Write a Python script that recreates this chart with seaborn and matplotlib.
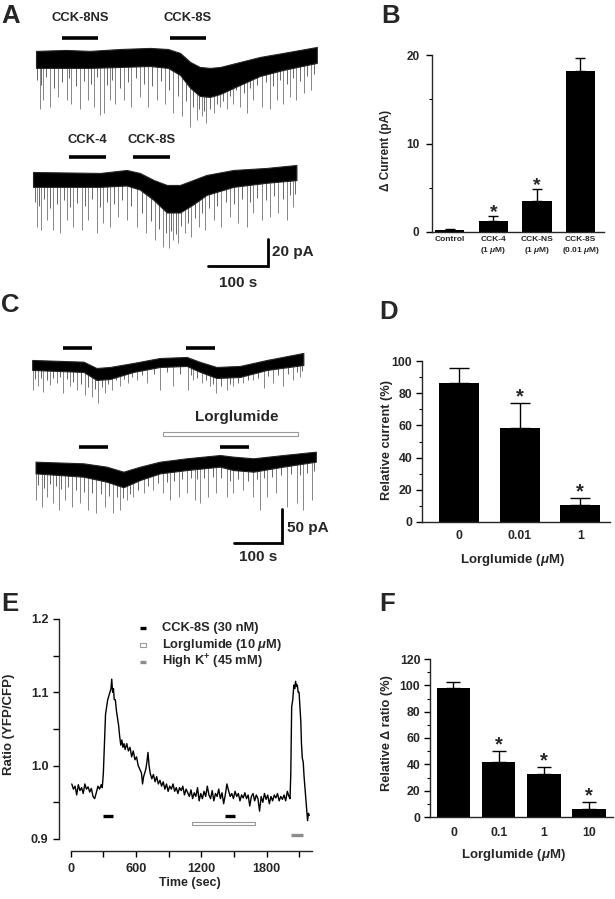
import numpy as np
import pandas as pd
import matplotlib
matplotlib.use("Agg")
import matplotlib.pyplot as plt
import seaborn as sns
from matplotlib.patches import Rectangle
from matplotlib.ticker import MultipleLocator

# ---------------- data ----------------
# Panel A, upper trace (CCK-8NS then CCK-8S); band edges in pA relative to holding level
a1_t = [10, 60, 100, 150, 200, 230, 250, 267, 283, 300, 317, 350, 383, 422, 478]
a1_top = [-0.7, 0, -0.7, 0.7, 1.5, 0.7, -2.2, -8.9, -12.6, -13.3, -12.6, -8.9, -5.2, -2.2, 2.2]
a1_bot = [-13.3, -13.3, -13.3, -12.6, -11.9, -13.3, -18.5, -28.1, -34.1, -34.8, -32.6, -25.9, -19.3, -14.8, -9.6]
a1_spk_t = [16, 22, 33, 47, 61, 69, 83, 96, 107, 116, 123, 133, 142, 157, 169, 183, 197, 211, 225, 239,
            253, 267, 278, 286, 294, 306, 317, 328, 339, 350, 361, 372, 386, 400, 411, 422, 433, 444, 456, 469]
a1_spk_d = [-44, -37, -42, -35, -37, -40, -44, -37, -42, -48, -47, -37, -40, -37, -42, -35, -42, -37, -40, -47,
            -49, -57, -52, -49, -54, -47, -42, -44, -40, -42, -47, -37, -42, -44, -37, -40, -35, -37, -32, -30]
a1_small_t = [12, 19, 27, 40, 54, 65, 76, 90, 102, 112, 128, 137, 150, 163, 176, 190, 204, 218, 232, 246,
              260, 272, 282, 290, 300, 311, 322, 333, 344, 356, 366, 379, 393, 405, 416, 428, 439, 450, 462, 474]
a1_small_d = [-22, -26, -20, -28, -24, -21, -27, -23, -25, -20, -26, -22, -28, -24, -21, -25, -27, -23, -30, -34,
              -38, -42, -44, -45, -44, -40, -38, -34, -30, -32, -28, -26, -24, -27, -22, -25, -21, -23, -19, -18]

# Panel A, lower trace (CCK-4 then CCK-8S)
a2_t = [5, 117, 161, 183, 206, 228, 250, 272, 294, 339, 394, 444]
a2_top = [0, -0.7, 1.5, -0.7, -5.9, -9.6, -9.6, -5.9, -2.2, 1.5, 3.0, 5.2]
a2_bot = [-11, -11, -10, -13, -20.7, -30, -30, -24, -17, -11, -8, -6]
a2_spk_t = [11, 19, 28, 39, 50, 61, 72, 86, 97, 111, 122, 133, 147, 161, 178, 194, 208, 222, 231, 239,
            247, 258, 269, 281, 292, 306, 319, 333, 347, 361, 372, 386, 400, 414, 428, 439]
a2_spk_d = [-40.5, -43, -35.6, -43, -45.4, -35.6, -40.5, -43, -35.6, -45.4, -38, -40.5, -33.1, -35.6, -40.5,
            -45.4, -50.4, -55.3, -56.5, -50.4, -52.8, -45.4, -47.9, -40.5, -43, -35.6, -40.5, -33.1, -38,
            -40.5, -30.6, -35.6, -33.1, -30.6, -35.6, -25.7]
a2_small_t = [8, 15, 23, 33, 45, 56, 66, 79, 92, 104, 116, 128, 140, 154, 169, 186, 201, 215, 226, 235,
              243, 252, 263, 275, 287, 299, 312, 326, 340, 354, 367, 379, 393, 407, 421, 433, 442]
a2_small_d = [-22, -25, -20, -27, -24, -21, -26, -23, -25, -20, -26, -22, -24, -21, -25, -30, -36, -42, -45,
              -44, -46, -40, -38, -34, -30, -27, -25, -22, -24, -20, -22, -19, -21, -18, -20, -17, -16]

a1_drugs = [(53, 113, "CCK-8NS"), (233, 293, "CCK-8S")]
a2_drugs = [(65, 127, "CCK-4"), (172, 233, "CCK-8S")]

# Panel C, control trace
c1_t = [67, 174, 201, 229, 278, 333, 389, 417, 451, 500, 556, 632]
c1_top = [0, -2.5, -11.8, -10.3, -4.4, 2.9, 4.4, -2.9, -10.3, -8.8, 0, 10.3]
c1_bot = [-14.7, -17.6, -29.4, -28, -17.6, -10.3, -8.8, -17.6, -26.5, -25, -14.7, -7.4]
c1_spk_t = [69, 80, 90, 104, 118, 132, 146, 160, 177, 191, 205, 219, 233, 250, 267, 285, 306, 333, 361,
            392, 403, 420, 438, 451, 472, 486, 507, 528, 549, 569, 590, 611, 625]
c1_spk_d = [-44, -39, -46.6, -36.8, -34.3, -49, -39, -44, -51.5, -54, -63.7, -49, -44, -39, -34.3, -29.4,
            -34.3, -44, -39, -44, -29.4, -34.3, -39, -49, -44, -39, -34.3, -29.4, -41.7, -34.3, -39, -29.4, -24.5]
c1_small_t = [72, 85, 97, 111, 125, 139, 153, 168, 184, 198, 212, 226, 241, 258, 276, 296, 320, 347, 375,
              397, 411, 429, 444, 461, 479, 496, 517, 538, 559, 580, 600, 618, 630]
c1_small_d = [-28, -26, -30, -27, -25, -28, -32, -36, -40, -42, -40, -36, -30, -28, -25, -22, -20, -18, -20,
              -22, -26, -30, -35, -38, -36, -34, -30, -26, -24, -22, -20, -18, -16]

# Panel C, trace with lorglumide
c2_t = [74, 174, 222, 257, 292, 333, 389, 458, 486, 528, 590, 658]
c2_top = [0, -2.4, -7.3, -14.7, -7.3, 0, 5, 9.8, 7.4, 5, 9.8, 14.7]
c2_bot = [-17.2, -22.1, -29.4, -37.6, -26.9, -17.2, -12.3, -7.3, -12.3, -14.7, -7.3, 0]
c2_spk_t = [76, 87, 97, 111, 122, 135, 149, 167, 184, 201, 219, 236, 250, 264, 278, 299, 319, 340, 354,
            372, 389, 406, 417, 434, 451, 472, 486, 507, 528, 542, 556, 576, 597, 618, 632, 649]
c2_spk_d = [-56.3, -66.2, -51.5, -61.2, -71, -56.3, -66.2, -61.2, -71, -75.9, -66.2, -75.9, -71, -56.3,
            -51.5, -46.5, -41.6, -46.5, -56.3, -51.5, -46.5, -56.3, -61.2, -51.5, -46.5, -51.5, -46.5,
            -41.6, -51.5, -71, -51.5, -46.5, -66.2, -61.2, -71, -56.3]
c2_small_t = [80, 92, 104, 116, 128, 142, 158, 175, 192, 210, 228, 243, 257, 271, 288, 309, 330, 347, 363,
              380, 397, 411, 425, 443, 461, 479, 496, 517, 535, 549, 566, 586, 607, 625, 640, 654]
c2_small_d = [-34, -38, -33, -36, -40, -37, -42, -44, -46, -48, -50, -52, -54, -48, -42, -36, -32, -30, -28,
              -26, -24, -26, -24, -22, -24, -28, -26, -28, -26, -24, -22, -20, -18, -20, -16, -14]

c1_drugs = [(131, 192), (388, 448)]
c2_drugs = [(165, 225), (458, 519)]
c_lorglumide = (340, 621)

# Panel B
b_cats = ["Control", "CCK-4\n(1 $\\mu$M)", "CCK-NS\n(1 $\\mu$M)", "CCK-8S\n(0.01 $\\mu$M)"]
b_mean = [0.25, 1.2, 3.45, 18.2]
b_err = [0.05, 0.65, 1.4, 1.45]
b_star = [False, True, True, False]

# Panel D
d_cats = ["0", "0.01", "1"]
d_mean = [86.5, 58.3, 10.3]
d_err = [9.0, 15.5, 4.6]
d_star = [False, True, True]

# Panel F
f_cats = ["0", "0.1", "1", "10"]
f_mean = [97.7, 41.4, 32.5, 6.1]
f_err = [5.1, 8.6, 5.1, 5.1]
f_star = [False, True, True, True]

# Panel E: YFP/CFP ratio time course
e_time = [10, 25, 40, 55, 70, 85, 100, 115, 130, 145, 160, 175, 190, 205, 220, 235, 250, 265, 280, 290,
          300, 310, 320, 330, 340, 350, 360, 370, 377, 385, 393, 400, 410, 420, 430, 440, 450, 460, 470,
          480, 490, 500, 515, 530, 545, 560, 575, 590, 605, 620, 635, 650, 660, 670, 680, 690, 700, 710,
          720, 730, 745, 760, 775, 790, 805, 820, 835, 850, 865, 880, 895, 910, 925, 940, 955, 970, 985,
          1000, 1015, 1030, 1045, 1060, 1075, 1090, 1105, 1120, 1135, 1150, 1165, 1180, 1195, 1210, 1225,
          1240, 1255, 1270, 1285, 1300, 1315, 1330, 1345, 1360, 1375, 1390, 1405, 1420, 1435, 1450, 1465,
          1480, 1495, 1510, 1525, 1540, 1555, 1570, 1585, 1600, 1615, 1630, 1645, 1660, 1675, 1690, 1705,
          1720, 1735, 1750, 1765, 1780, 1795, 1810, 1825, 1840, 1855, 1870, 1885, 1900, 1915, 1930, 1945,
          1960, 1975, 1990, 2005, 2015, 2022, 2030, 2040, 2050, 2058, 2066, 2074, 2082, 2090, 2098, 2106,
          2114, 2120, 2128, 2136, 2144, 2152, 2160, 2168, 2176, 2184, 2192]
e_ratio = [0.975, 0.968, 0.972, 0.960, 0.974, 0.966, 0.970, 0.962, 0.975, 0.968, 0.971, 0.964, 0.969, 0.958,
           0.955, 0.963, 0.972, 0.968, 0.974, 0.970,
           0.990, 1.030, 1.070, 1.080, 1.090, 1.095, 1.100, 1.105, 1.118, 1.100, 1.105, 1.090, 1.090, 1.075,
           1.065, 1.055, 1.040, 1.028, 1.035, 1.025, 1.030, 1.022, 1.030, 1.020, 1.025, 1.012, 1.020, 1.008,
           1.012, 1.000, 0.995, 0.990, 0.975, 0.985, 0.990, 0.995, 1.005, 1.018, 1.000, 0.990, 0.982, 0.988,
           0.978, 0.985, 0.975, 0.980, 0.972, 0.978, 0.968, 0.975, 0.965, 0.972, 0.968, 0.975, 0.965, 0.970,
           0.962,
           0.970, 0.966, 0.972, 0.960, 0.968, 0.963, 0.958, 0.967, 0.955, 0.963, 0.958, 0.970, 0.952, 0.962,
           0.955, 0.965, 0.958, 0.972, 0.960, 0.955, 0.966, 0.952, 0.962, 0.958, 0.968, 0.955, 0.963, 0.948,
           0.960, 0.975, 0.966, 0.958, 0.962, 0.955, 0.965, 0.958, 0.962, 0.952, 0.960, 0.956, 0.963, 0.955,
           0.960, 0.945, 0.958, 0.962, 0.952, 0.960, 0.955, 0.938, 0.958, 0.950, 0.962, 0.954, 0.960, 0.948,
           0.958, 0.952, 0.960, 0.956, 0.962, 0.952, 0.958, 0.954, 0.960, 0.952, 0.965, 0.958,
           0.955, 0.990, 1.080, 1.090, 1.110, 1.105, 1.115, 1.108, 1.110, 1.100, 1.100, 1.080, 1.060, 1.030,
           1.010, 1.005, 0.985, 0.970, 0.955, 0.940, 0.925, 0.935, 0.932]
e_cck = [(300, 392), (1420, 1512)]
e_lorglumide = (1112, 1694)
e_highk = (2025, 2138)
e_legend = ["CCK-8S (30 nM)", "Lorglumide (10 $\\mu$M)", "High K$^{+}$ (45 mM)"]

# ---------------- figure ----------------
sns.set_theme(style="ticks")
plt.rcParams["font.family"] = ["Liberation Sans", "DejaVu Sans"]
plt.rcParams["font.weight"] = "bold"
plt.rcParams["axes.labelweight"] = "bold"
plt.rcParams["mathtext.fontset"] = "custom"
plt.rcParams["mathtext.rm"] = "Liberation Sans:bold"
plt.rcParams["mathtext.it"] = "Liberation Sans:italic:bold"
plt.rcParams["mathtext.default"] = "it"
plt.rcParams["axes.linewidth"] = 1.0

W, H = 615, 899
fig = plt.figure(figsize=(W / 100, H / 100), dpi=100)


def px_axes(x0, y0, x1, y1):
    return fig.add_axes([x0 / W, 1 - y1 / H, (x1 - x0) / W, (y1 - y0) / H])


def letter(x, y, s):
    fig.text(x / W, 1 - y / H, s, fontsize=18.5, fontweight="bold", va="center", ha="left")


def draw_trace(ax, t, top, bot, spk_t, spk_d, small_t, small_d, y0):
    t = np.asarray(t, float)
    top = y0 + np.asarray(top, float)
    bot = y0 + np.asarray(bot, float)
    for st, sd, col, lw in [(spk_t, spk_d, "0.45", 0.6), (small_t, small_d, "0.3", 0.6)]:
        start = np.interp(st, t, bot)
        ax.vlines(st, start + 2, y0 + np.asarray(sd), color=col, lw=lw, zorder=1)
    ax.fill_between(t, top, bot, color="black", lw=0.8, edgecolor="0.15", zorder=2)


def drug_bar(ax, t0, t1, y, lw=2.6, color="black"):
    ax.plot([t0, t1], [y, y], color=color, lw=lw, solid_capstyle="butt")


def bar_panel(ax, cats, means, errs, stars, width, xlim, ymax, major, minor, capsize,
              tick_fs, star_fs, star_off):
    df = pd.DataFrame({"cat": cats, "val": means})
    sns.barplot(data=df, x="cat", y="val", order=cats, color="black", saturation=1,
                width=width, errorbar=None, ax=ax, linewidth=0)
    ax.errorbar(range(len(cats)), means, yerr=[np.zeros(len(errs)), errs], fmt="none",
                ecolor="black", elinewidth=1, capsize=capsize, capthick=1, zorder=0.5)
    for i, s in enumerate(stars):
        if s:
            ax.annotate("*", (i, means[i] + errs[i]), xytext=(0, star_off),
                        textcoords="offset points", ha="center", va="bottom",
                        fontsize=star_fs, fontweight="bold")
    ax.set_xlim(*xlim)
    ax.set_ylim(0, ymax)
    ax.yaxis.set_major_locator(MultipleLocator(major))
    ax.yaxis.set_minor_locator(MultipleLocator(minor))
    ax.spines[["top", "right"]].set_visible(False)
    ax.spines["left"].set_bounds(0, ymax)
    ax.tick_params(axis="y", which="major", length=4, width=1, direction="out",
                   labelsize=tick_fs, color="black")
    ax.tick_params(axis="y", which="minor", length=2.2, width=0.8, direction="out", color="black")
    ax.tick_params(axis="x", length=0)
    ax.set_xlabel("")
    ax.set_ylabel("")


# ---- Panel A ----
axA = px_axes(0, 0, 380, 290)
axA.set_xlim(-50, 583.3)
axA.set_ylim(-192.6, 22.2)
axA.axis("off")
yA1, yA2 = -14.8, -105.2
draw_trace(axA, a1_t, a1_top, a1_bot, a1_spk_t, a1_spk_d, a1_small_t, a1_small_d, yA1)
draw_trace(axA, a2_t, a2_top, a2_bot, a2_spk_t, a2_spk_d, a2_small_t, a2_small_d, yA2)
for t0, t1, name in a1_drugs:
    drug_bar(axA, t0, t1, 8.9 - 14.8)
    axA.text((t0 + t1) / 2, 8.9, name, ha="center", va="center", fontsize=9.4, fontweight="bold")
for t0, t1, name in a2_drugs:
    drug_bar(axA, t0, t1, -94.1)
    axA.text((t0 + t1) / 2, -81.5, name, ha="center", va="center", fontsize=9.4, fontweight="bold")
axA.plot([297, 397, 397], [-174.8, -174.8, -154.8], color="black", lw=2, solid_joinstyle="miter")
axA.text(403, -164.8, "20 pA", ha="left", va="center", fontsize=11, fontweight="bold")
axA.text(347, -187.4, "100 s", ha="center", va="center", fontsize=11, fontweight="bold")

# ---- Panel C ----
axC = px_axes(0, 290, 380, 590)
axC.set_xlim(0, 791.7)
axC.set_ylim(-441.2, 0)
axC.axis("off")
yC1, yC2 = -102.9, -252.5
draw_trace(axC, c1_t, c1_top, c1_bot, c1_spk_t, c1_spk_d, c1_small_t, c1_small_d, yC1)
draw_trace(axC, c2_t, c2_top, c2_bot, c2_spk_t, c2_spk_d, c2_small_t, c2_small_d, yC2)
for t0, t1 in c1_drugs:
    drug_bar(axC, t0, t1, -85.3)
for t0, t1 in c2_drugs:
    drug_bar(axC, t0, t1, -230.9)
axC.add_patch(Rectangle((c_lorglumide[0], -214.5), c_lorglumide[1] - c_lorglumide[0], 5.5,
                        facecolor="white", edgecolor="0.6", lw=0.8))
axC.text(494, -186.8, "Lorglumide", ha="center", va="center", fontsize=11, fontweight="bold")
axC.plot([487.5, 587.5, 587.5], [-372, -372, -322], color="black", lw=2, solid_joinstyle="miter")
axC.text(598, -350, "50 pA", ha="left", va="center", fontsize=11, fontweight="bold")
axC.text(537, -392.6, "100 s", ha="center", va="center", fontsize=11, fontweight="bold")

# ---- Panel B ----
axB = px_axes(432, 55, 604, 232)
bar_panel(axB, b_cats, b_mean, b_err, b_star, 0.67, (-0.41, 3.54), 20, 10, 5, 3.4, 8.5, 14, -3.8)
axB.tick_params(axis="x", labelsize=6, pad=3)
axB.tick_params(axis="y", pad=5)
axB.set_ylabel("Δ Current (pA)", fontsize=8.5)
axB.yaxis.set_label_coords(-0.234, 0.463)

# ---- Panel D ----
axD = px_axes(422, 361, 610, 522)
bar_panel(axD, d_cats, d_mean, d_err, d_star, 0.66, (-0.61, 2.49), 100, 20, 10, 7, 8.8, 14.5, -2.4)
axD.tick_params(axis="x", labelsize=8.8, pad=6)
axD.tick_params(axis="y", pad=3)
axD.set_ylabel("Relative current (%)", fontsize=9.2)
axD.yaxis.set_label_coords(-0.156, 0.51)
axD.set_xlabel("Lorglumide ($\\mu$M)", fontsize=9.5, va="top")
axD.xaxis.set_label_coords(0.484, -0.184)

# ---- Panel F ----
axF = px_axes(430, 659, 613, 817)
bar_panel(axF, f_cats, f_mean, f_err, f_star, 0.74, (-0.52, 3.53), 120, 20, 10, 4.7, 8.8, 14.5, -2.4)
axF.tick_params(axis="x", labelsize=8.8, pad=7)
axF.tick_params(axis="y", pad=3)
axF.set_ylabel("Relative Δ ratio (%)", fontsize=9.2)
axF.yaxis.set_label_coords(-0.2, 0.53)
axF.set_xlabel("Lorglumide ($\\mu$M)", fontsize=9.5, va="top")
axF.xaxis.set_label_coords(0.454, -0.188)

# ---- Panel E ----
axE = px_axes(59, 619, 311.7, 851)
sns.lineplot(x=e_time, y=e_ratio, ax=axE, color="black", lw=1)
axE.set_xlim(-107.5, 2214)
axE.set_ylim(0.8836, 1.2)
axE.spines[["top", "right"]].set_visible(False)
axE.spines["left"].set_bounds(0.9, 1.2)
axE.spines["bottom"].set_bounds(0, 2214)
axE.xaxis.set_minor_locator(MultipleLocator(300))
axE.yaxis.set_minor_locator(MultipleLocator(0.05))
axE.set_yticks([0.9, 1.0, 1.1, 1.2])
axE.set_yticklabels(["0.9", "1.0", "1.1", "1.2"])
axE.set_xticks([0, 600, 1200, 1800])
axE.set_xticklabels(["0", "600", "1200", "1800"])
axE.tick_params(which="major", length=4, width=1, direction="out", labelsize=9.1, color="black")
axE.tick_params(which="minor", length=4, width=1, direction="out", color="black")
axE.tick_params(axis="x", pad=5)
axE.tick_params(axis="y", pad=3.5)
for t0, t1 in e_cck:
    drug_bar(axE, t0, t1, 0.932, lw=2.4)
axE.add_patch(Rectangle((e_lorglumide[0], 0.9187), e_lorglumide[1] - e_lorglumide[0], 0.0049,
                        facecolor="white", edgecolor="0.6", lw=0.8))
drug_bar(axE, e_highk[0], e_highk[1], 0.905, lw=2.4, color="0.55")
axE.set_ylabel("Ratio (YFP/CFP)", fontsize=9.5)
axE.yaxis.set_label_coords(-0.174, 0.545)
axE.set_xlabel("Time (sec)", fontsize=9, va="top")
axE.xaxis.set_label_coords(0.518, -0.111)

# legend drawn by hand (rows at fixed heights, like the original)
tf = axE.transAxes
leg_rows = [0.961, 0.888, 0.815]
mx0, mx1, tx = 0.3205, 0.344, 0.406
axE.plot([mx0, mx1], [leg_rows[0]] * 2, transform=tf, color="black", lw=2.4,
         solid_capstyle="butt", clip_on=False)
axE.add_patch(Rectangle((mx0, leg_rows[1] - 0.008), mx1 - mx0, 0.016, transform=tf,
                        facecolor="white", edgecolor="0.6", lw=0.8, clip_on=False))
axE.plot([mx0, mx1], [leg_rows[2]] * 2, transform=tf, color="0.55", lw=2.4,
         solid_capstyle="butt", clip_on=False)
for yy, lab in zip(leg_rows, e_legend):
    axE.text(tx, yy, lab, transform=tf, fontsize=9.3, fontweight="bold", va="center", ha="left")

letter(1, 16, "A")
letter(381, 16, "B")
letter(1, 305, "C")
letter(379, 312, "D")
letter(1, 604, "E")
letter(379, 604, "F")

fig.savefig("out.png", dpi=100)
